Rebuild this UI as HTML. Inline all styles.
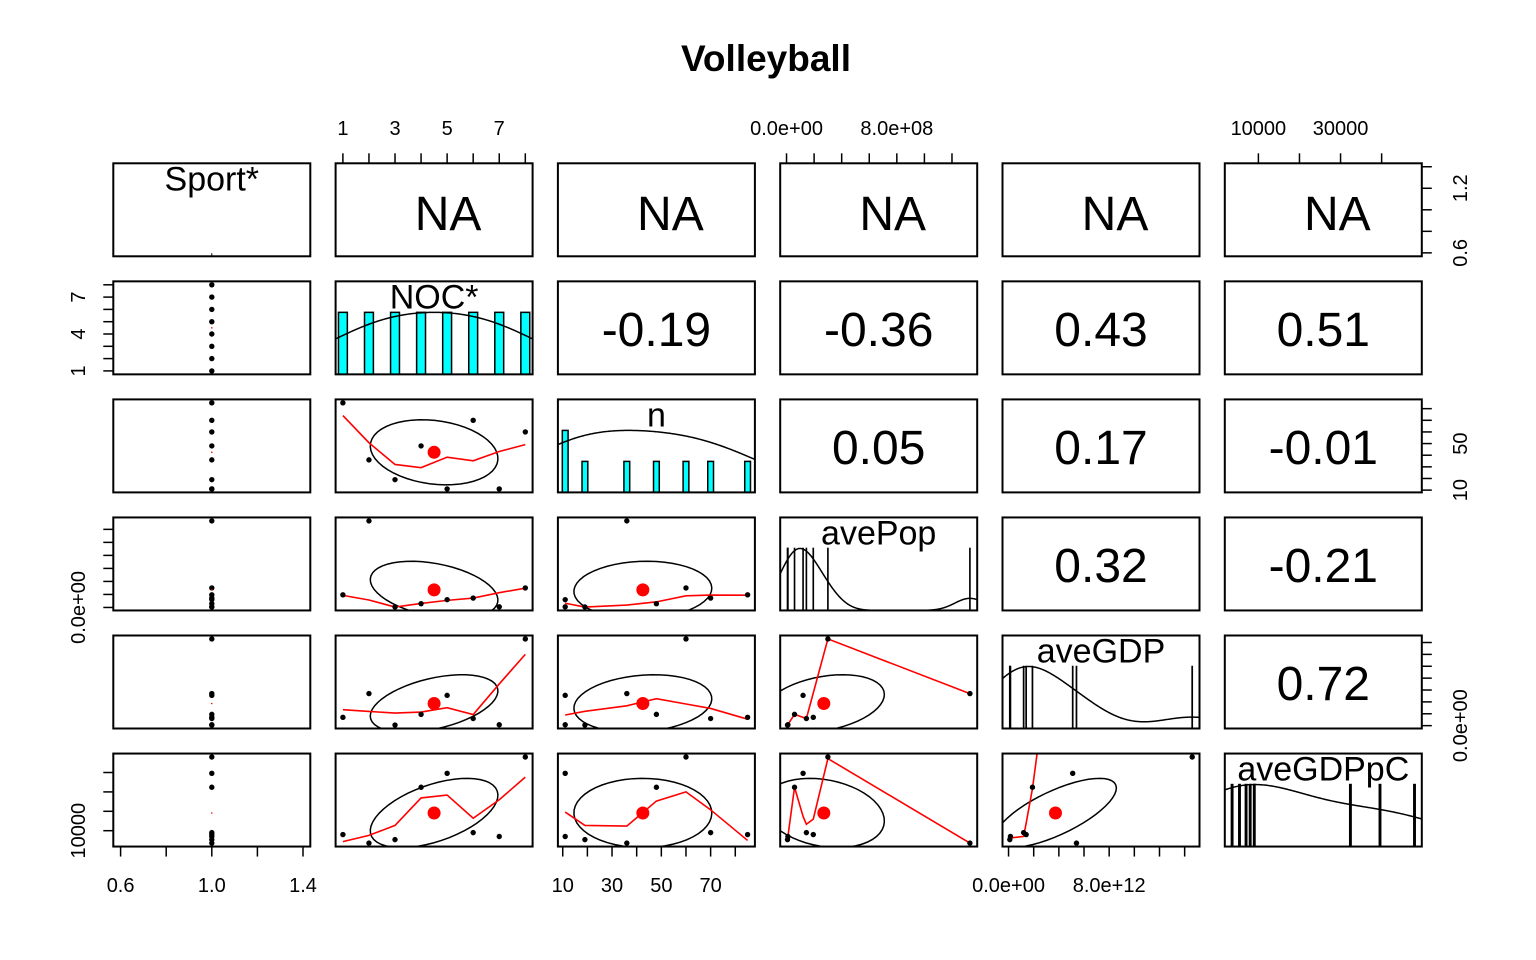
<!DOCTYPE html>
<html><head><meta charset="utf-8"><title>Volleyball pairs</title>
<style>html,body{margin:0;padding:0;background:#fff}svg{display:block}</style></head>
<body>
<svg id="chart" width="1536" height="960" viewBox="0 0 1536 960" xmlns="http://www.w3.org/2000/svg" font-family="Liberation Sans, Arial, sans-serif">
<rect width="1536" height="960" fill="#fff"/>
<text x="766" y="71" font-size="37" font-weight="bold" text-anchor="middle">Volleyball</text>
<g id="plot"></g>
</svg>
<script>
const varNames = ["Sport*","NOC*","n","avePop","aveGDP","aveGDPpC"];
const sportVals = [1,1,1,1,1,1,1,1];
const nocVals = [1,2,3,4,5,6,7,8];
const nVals = [85,36,19,48,11,70,11,60];
const popVals = [1.94e8,13.3e8,0.07e8,0.58e8,1.2e8,1.44e8,0.1e8,3.0e8];
const gdpVals = [1.4e12,5.4e12,0.1e12,1.9e12,5.1e12,1.2e12,0.15e12,14.6e12];
const gdppcVals = [8000,3600,5400,32400,39600,9000,7000,48000];
const corLabels = [
  ["NA","NA","NA","NA","NA"],
  ["-0.19","-0.36","0.43","0.51"],
  ["0.05","0.17","-0.01"],
  ["0.32","-0.21"],
  ["0.72"]
];
const sportTicks = [0.6,0.8,1.0,1.2,1.4];
const sportBottomLabels = ["0.6","1.0","1.4"];
const sportRightLabels = ["0.6","1.2"];
const nocTicks = [1,2,3,4,5,6,7,8];
const nocTopLabels = ["1","3","5","7"];
const nocLeftLabels = ["1","4","7"];
const nTicks = [10,20,30,40,50,60,70,80];
const nBottomLabels = ["10","30","50","70"];
const nRightLabels = ["10","50"];
const popTicks = [0,2e8,4e8,6e8,8e8,10e8,12e8];
const popTopLabels = ["0.0e+00","8.0e+08"];
const popLeftLabels = ["0.0e+00"];
const gdpTicks = [0,2e12,4e12,6e12,8e12,10e12,12e12,14e12];
const gdpBottomLabels = ["0.0e+00","8.0e+12"];
const gdpRightLabels = ["0.0e+00"];
const gdppcTicks = [10000,20000,30000,40000];
const gdppcTopLabels = ["10000","30000"];
const gdppcLeftLabels = ["10000"];

const data = [sportVals,nocVals,nVals,popVals,gdpVals,gdppcVals];
const NS="http://www.w3.org/2000/svg";
const plot=document.getElementById('plot');
const PL=113.3, PT=163.3, DX=222.3, DY=118.05, W=197, H=93;
function el(tag,attrs,parent){const e=document.createElementNS(NS,tag);for(const k in attrs)e.setAttribute(k,attrs[k]);(parent||plot).appendChild(e);return e;}
function rng(v){let lo=Math.min(...v),hi=Math.max(...v);if(lo===hi){lo=lo*0.6;hi=hi*1.4;}const e=(hi-lo)*0.04;return [lo-e,hi+e];}
const ranges=data.map(rng);
function sx(v,c){const r=ranges[c];return PL+c*DX+(v-r[0])/(r[1]-r[0])*W;}
function sy(v,r){const g=ranges[r];return PT+r*DY+H-(v-g[0])/(g[1]-g[0])*H;}
function mean(a){return a.reduce((s,x)=>s+x,0)/a.length;}
function sd(a){const m=mean(a);return Math.sqrt(a.reduce((s,x)=>s+(x-m)*(x-m),0)/(a.length-1));}
function cor(a,b){const ma=mean(a),mb=mean(b);let sab=0,saa=0,sbb=0;for(let i=0;i<a.length;i++){sab+=(a[i]-ma)*(b[i]-mb);saa+=(a[i]-ma)**2;sbb+=(b[i]-mb)**2;}return sab/Math.sqrt(saa*sbb);}
function quant(a,p){const s=[...a].sort((x,y)=>x-y);const h=(s.length-1)*p,l=Math.floor(h);return l+1<s.length?s[l]+(h-l)*(s[l+1]-s[l]):s[l];}
function median(a){return quant(a,0.5);}
function lowess(x,y){
  const n=x.length;const idx=[...Array(n).keys()].sort((i,j)=>x[i]-x[j]);
  const xs=idx.map(i=>x[i]),ys=idx.map(i=>y[i]);
  const ns=Math.max(2,Math.min(n,Math.floor(2/3*n+1e-7)));
  let rw=new Array(n).fill(1);const fit=new Array(n).fill(0);const range=xs[n-1]-xs[0];
  function lowest(i,nleft,nright,userw){
    const xv=xs[i];const h=Math.max(xv-xs[nleft],xs[nright]-xv);const h9=0.999*h,h1=0.001*h;
    const w=new Array(n).fill(0);let a=0;let j=nleft;
    while(j<n){const r=Math.abs(xs[j]-xv);if(r<=h9){w[j]=r<=h1?1:Math.pow(1-Math.pow(r/h,3),3);if(userw)w[j]*=rw[j];a+=w[j];}else if(xs[j]>xv)break;j++;}
    const nrt=j-1;if(a<=0)return ys[i];
    for(let k=nleft;k<=nrt;k++)w[k]/=a;
    if(h>0){let aa=0;for(let k=nleft;k<=nrt;k++)aa+=w[k]*xs[k];let b=xv-aa;let c=0;for(let k=nleft;k<=nrt;k++)c+=w[k]*(xs[k]-aa)**2;
      if(Math.sqrt(c)>0.001*range){b/=c;for(let k=nleft;k<=nrt;k++)w[k]*=(b*(xs[k]-aa)+1);}}
    let s=0;for(let k=nleft;k<=nrt;k++)s+=w[k]*ys[k];return s;}
  for(let it=0;it<4;it++){
    let nleft=0,nright=ns-1;
    for(let i=0;i<n;i++){
      while(nright<n-1&&xs[i]-xs[nleft]>xs[nright+1]-xs[i]){nleft++;nright++;}
      if(i>0&&xs[i]===xs[i-1]){fit[i]=fit[i-1];continue;}
      fit[i]=lowest(i,nleft,nright,it>0);}
    if(it===3)break;
    const res=ys.map((v,i)=>Math.abs(v-fit[i]));const sc=mean(res);
    const cmad=6*median(res);if(cmad<1e-7*sc)break;
    const c9=0.999*cmad,c1=0.001*cmad;
    rw=res.map(r=>r<=c1?1:(r>c9?0:(1-(r/cmad)**2)**2));}
  return {x:xs,y:fit};}

// clip paths
const defs=el('defs',{});
for(let r=0;r<6;r++)for(let c=0;c<6;c++){const cp=el('clipPath',{id:`cp${r}${c}`},defs);el('rect',{x:PL+c*DX,y:PT+r*DY,width:W,height:H},cp);}

for(let r=0;r<6;r++){for(let c=0;c<6;c++){
  const x0=PL+c*DX,y0=PT+r*DY;
  const g=el('g',{});
  
  
  const inner=el('g',{'clip-path':`url(#cp${r}${c})`},g);
  if(r===c){
    const v=data[c];
    const uniq=[...new Set(v)].sort((a,b)=>a-b);
    if(uniq.length>1){
      const counts=uniq.map(u=>v.filter(x=>x===u).length);const mx=Math.max(...counts);
      let md=Infinity;for(let k=1;k<uniq.length;k++)md=Math.min(md,uniq[k]-uniq[k-1]);
      const ib=md*(uniq.length-1)/41;
      uniq.forEach((u,k)=>{const xa=sx(u-ib,c),xb=sx(u+ib,c);const hh=counts[k]/mx/1.5*H;
        const b=el('rect',{x:xa,y:y0+H-hh,width:Math.max(xb-xa,0.01),height:hh,fill:'#00ffff',stroke:'#000','stroke-width':1.5},inner);
        
        });
      const s=sd(v),iqr=quant(v,0.75)-quant(v,0.25);
      const bw=1.2*1.06*Math.min(s,iqr/1.34)*Math.pow(v.length,-0.2);
      const lo=Math.min(...v)-3*bw,hi=Math.max(...v)+3*bw;const pts=[];let dmax=0;
      for(let k=0;k<512;k++){const xx=lo+(hi-lo)*k/511;let d=0;v.forEach(xi=>{d+=Math.exp(-0.5*((xx-xi)/bw)**2);});pts.push([xx,d]);dmax=Math.max(dmax,d);}
      const dp=el('polyline',{points:pts.map(p=>`${sx(p[0],c).toFixed(2)},${(y0+H-p[1]/dmax/1.5*H).toFixed(2)}`).join(' '),fill:'none',stroke:'#000','stroke-width':1.5},inner);
      
      
    } else {
      el('line',{x1:sx(uniq[0],c),x2:sx(uniq[0],c),y1:y0+H-3,y2:y0+H,stroke:'#000','stroke-width':1},inner);
    }
    const t=el('text',{x:x0+W/2,y:y0+27,'font-size':34,'text-anchor':'middle'},g);
    t.textContent=varNames[c];
    
    
  } else if(r<c){
    const lab=corLabels[r][c-r-1];
    const t=el('text',{x:x0+W/2+(lab==='NA'?14:0),y:y0+H/2+(lab==='NA'?20:18),'font-size':48,'text-anchor':'middle'},g);
    t.textContent=lab;
    
    
  } else {
    const xv=data[c],yv=data[r];
    if(c>0){
      const r0=cor(xv,yv);const th=(r0>0?1:(r0<0?-1:1))/Math.SQRT2;
      const a=Math.sqrt(1+r0),b=Math.sqrt(1-r0);const mx=mean(xv),my=mean(yv),sxv=sd(xv),syv=sd(yv);const ep=[];
      for(let k=0;k<=51;k++){const an=k*2*Math.PI/51;const cs=Math.cos(an),sn=Math.sin(an);
        const ex=cs*a*th-sn*b*th,ey=cs*a*th+sn*b*th;ep.push(`${sx(mx+ex*sxv,c).toFixed(2)},${sy(my+ey*syv,r).toFixed(2)}`);}
      const e=el('polyline',{points:ep.join(' '),fill:'none',stroke:'#000','stroke-width':1.5},inner);
      
      
      const lw=lowess(xv,yv);
      const l=el('polyline',{points:lw.x.map((xx,k)=>`${sx(xx,c).toFixed(2)},${sy(lw.y[k],r).toFixed(2)}`).join(' '),fill:'none',stroke:'#ff0000','stroke-width':1.6},inner);
      
      
    }
    xv.forEach((xx,k)=>{const p=el('circle',{cx:sx(xx,c),cy:sy(yv[k],r),r:2.7,fill:'#000'},inner);
      
      });
    const m=el('circle',{cx:sx(mean(xv),c),cy:sy(mean(yv),r),r:c>0?6.5:0.8,fill:'#ff0000'},inner);
    
    
  }
  const box=el('rect',{x:x0,y:y0,width:W,height:H,fill:'none',stroke:'#000','stroke-width':2},g);
  
  
}}

function fmtMatch(labels,ticks){return labels.map(l=>{const v=parseFloat(l);let best=ticks[0];ticks.forEach(t=>{if(Math.abs(t-v)<Math.abs(best-v))best=t;});return [best,l];});}
function axis(side,idx,ticks,labels,name){
  const g=el('g',{});
  
  
  const x0=PL+idx*DX,y0=PT+idx*DY;
  ticks.forEach(t=>{
    if(side==='top'){const x=sx(t,idx);el('line',{x1:x,x2:x,y1:PT,y2:PT-10,stroke:'#000','stroke-width':1.5},g);}
    if(side==='bottom'){const x=sx(t,idx);el('line',{x1:x,x2:x,y1:PT+5*DY+H,y2:PT+5*DY+H+10,stroke:'#000','stroke-width':1.5},g);}
    if(side==='left'){const y=sy(t,idx);el('line',{x1:PL,x2:PL-10,y1:y,y2:y,stroke:'#000','stroke-width':1.5},g);}
    if(side==='right'){const y=sy(t,idx);el('line',{x1:PL+5*DX+W,x2:PL+5*DX+W+10,y1:y,y2:y,stroke:'#000','stroke-width':1.5},g);}
  });
  fmtMatch(labels,ticks).forEach(([t,l])=>{let e;
    if(side==='top')e=el('text',{x:sx(t,idx),y:135,'font-size':20,'text-anchor':'middle'},g);
    if(side==='bottom')e=el('text',{x:sx(t,idx),y:892,'font-size':20,'text-anchor':'middle'},g);
    if(side==='left'){const y=sy(t,idx);e=el('text',{x:85,y:y,'font-size':20,'text-anchor':'middle',transform:`rotate(-90 85 ${y})`},g);}
    if(side==='right'){const y=sy(t,idx);e=el('text',{x:1467,y:y,'font-size':20,'text-anchor':'middle',transform:`rotate(-90 1467 ${y})`},g);}
    e.textContent=l;
    
    });
}
axis('top',1,nocTicks,nocTopLabels,'noc-top-axis');
axis('top',3,popTicks,popTopLabels,'avepop-top-axis');
axis('top',5,gdppcTicks,gdppcTopLabels,'avegdppc-top-axis');
axis('bottom',0,sportTicks,sportBottomLabels,'sport-bottom-axis');
axis('bottom',2,nTicks,nBottomLabels,'n-bottom-axis');
axis('bottom',4,gdpTicks,gdpBottomLabels,'avegdp-bottom-axis');
axis('left',1,nocTicks,nocLeftLabels,'noc-left-axis');
axis('left',3,popTicks,popLeftLabels,'avepop-left-axis');
axis('left',5,gdppcTicks,gdppcLeftLabels,'avegdppc-left-axis');
axis('right',0,sportTicks,sportRightLabels,'sport-right-axis');
axis('right',2,nTicks,nRightLabels,'n-right-axis');
axis('right',4,gdpTicks,gdpRightLabels,'avegdp-right-axis');
</script>
</body></html>
